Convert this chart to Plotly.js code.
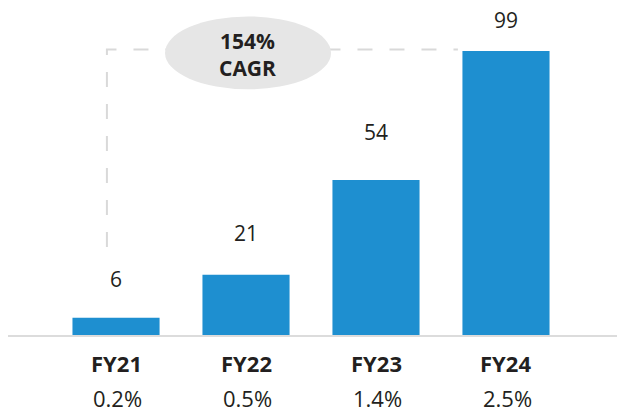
<!DOCTYPE html>
<html>
<head>
<meta charset="utf-8">
<script src="https://cdn.plot.ly/plotly-3.0.1.min.js"></script>
<style>
  html, body { margin: 0; padding: 0; background: #fff; }
  #chart { width: 617px; height: 412px; }
</style>
</head>
<body>
<div id="chart"></div>
<script>
// data
const years = ["FY21", "FY22", "FY23", "FY24"];
const values = [6, 21, 54, 99];
const shares = ["0.2%", "0.5%", "1.4%", "2.5%"];
const cagrLabel = "154%<br>CAGR";

// vertical offsets (px) of the value labels above the bars
const labelLift = [39, 42, 48, 31];

const FONT = "Open Sans, Noto Sans, sans-serif";
const INK = "#231f20";
const idx = years.map((_, i) => i);

const bars = {
  type: "bar",
  x: idx,
  y: values,
  marker: { color: "#1e8fd0" },
  hoverinfo: "skip",
};

const annotations = [];
values.forEach((v, i) => {
  annotations.push({
    x: i, y: v, xref: "x", yref: "y",
    text: String(v), showarrow: false,
    yanchor: "middle", yshift: labelLift[i],
    font: { family: FONT, size: 21, color: INK },
  });
  annotations.push({
    x: i, y: 0, xref: "x", yref: "y",
    text: "<b>" + years[i] + "</b>", showarrow: false,
    yanchor: "middle", yshift: -28,
    font: { family: FONT, size: 22, color: INK },
  });
  annotations.push({
    x: i + 0.015, y: 0, xref: "x", yref: "y",
    text: shares[i], showarrow: false,
    yanchor: "middle", yshift: -63, borderpad: 0,
    font: { family: FONT, size: 22, color: INK },
  });
});
annotations.push({
  x: 1.015, y: 97.6, xref: "x", yref: "y",
  text: "<b>" + cagrLabel + "</b>", showarrow: false,
  yanchor: "middle",
  font: { family: FONT, size: 21, color: INK },
});

const lastIdx = values.length - 1;
const guideY = values[lastIdx] + 0.5;
const shapes = [
  {
    type: "path", xref: "x", yref: "y",
    path: `M -0.07 30.7 L -0.07 ${guideY} L ${lastIdx - 0.37} ${guideY}`,
    line: { color: "#d9d9d9", width: 2, dash: "15px,17px" },
  },
  {
    type: "circle", xref: "x", yref: "y",
    x0: 0.377, x1: 1.654, y0: 85.6, y1: 111.0,
    fillcolor: "#e6e6e6", line: { width: 0 },
  },
];

const layout = {
  width: 617,
  height: 412,
  margin: { l: 8, r: 0, t: 13, b: 77 },
  paper_bgcolor: "#fff",
  plot_bgcolor: "#fff",
  showlegend: false,
  bargap: 0.33,
  xaxis: {
    range: [-0.831, 3.854],
    showticklabels: false,
    showgrid: false,
    zeroline: false,
    showline: true,
    linecolor: "#dcdcdc",
    linewidth: 2,
    ticks: "",
    fixedrange: true,
  },
  yaxis: {
    range: [0, 112.2],
    visible: false,
    fixedrange: true,
  },
  shapes,
  annotations,
};

Plotly.newPlot("chart", [bars], layout, { displayModeBar: false, staticPlot: true });
</script>
</body>
</html>
